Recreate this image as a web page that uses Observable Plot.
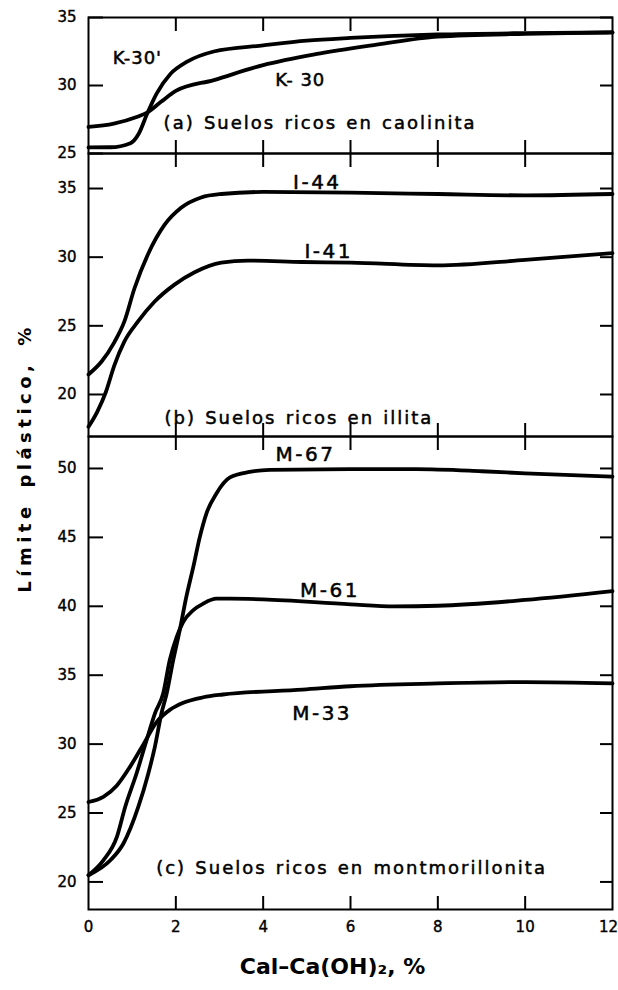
<!DOCTYPE html>
<html>
<head>
<meta charset="utf-8">
<script src="https://cdn.jsdelivr.net/npm/d3@7"></script>
<script src="https://cdn.jsdelivr.net/npm/@observablehq/plot@0.6"></script>
<style>
  body { margin: 0; background: #fff; }
  #wrap { position: relative; width: 618px; height: 990px; overflow: hidden; }
  #wrap svg { display: block; overflow: visible; }
  #ytitle {
    position: absolute; left: 24px; top: 458px;
    transform: translate(-50%, -50%) rotate(-90deg);
    font: bold 18px "DejaVu Sans", sans-serif; letter-spacing: 4.5px; word-spacing: 4px;
    white-space: nowrap; color: #000;
  }
</style>
</head>
<body>
<div id="wrap"><div id="ytitle">Límite plástico, %</div></div>
<script>
// ---------- data ----------
const xTicks = [0, 2, 4, 6, 8, 10];
const xLastTick = [12];
const xInnerTicks = [2, 4, 6, 8, 10];

// (a) caolinita
const aTicks = [25, 30, 35];
const xK30p = [0, 0.5, 0.96, 1.15, 1.34, 1.56, 1.88, 2.26, 2.87, 4, 5, 6, 7, 8, 10, 12];
const yK30p = [25.45, 25.46, 25.76, 26.45, 27.9, 29.4, 30.86, 31.75, 32.5, 32.95, 33.3, 33.5, 33.65, 33.75, 33.85, 33.9];
const xK30 = [0, 0.58, 1.12, 1.34, 1.66, 2, 2.87, 4, 5.2, 6.6, 8, 10, 12];
const yK30 = [26.95, 27.2, 27.7, 28.0, 28.8, 29.6, 30.4, 31.5, 32.3, 33.0, 33.6, 33.8, 33.9];

// (b) illita
const bTicks = [20, 25, 30, 35];
const xI44 = [0, 0.3, 0.59, 0.82, 1.05, 1.36, 1.74, 2.12, 2.58, 3.04, 4, 6, 8, 10, 12];
const yI44 = [21.46, 22.4, 23.8, 25.3, 27.7, 30.2, 32.35, 33.6, 34.35, 34.6, 34.75, 34.7, 34.6, 34.5, 34.6];
const xI41 = [0, 0.2, 0.4, 0.59, 0.82, 1.13, 1.51, 1.97, 2.43, 3.04, 3.65, 4.9, 6, 8, 10, 12];
const yI41 = [17.65, 18.74, 20.2, 22.1, 23.85, 25.3, 26.75, 28.0, 28.9, 29.6, 29.75, 29.65, 29.6, 29.4, 29.8, 30.3];

// (c) montmorillonita
const cTicks = [20, 25, 30, 35, 40, 45, 50];
const xM33 = [0, 0.34, 0.65, 0.95, 1.26, 1.56, 1.87, 2.17, 2.63, 3.08, 4.9, 6, 8, 10, 12];
const yM33 = [25.8, 26.17, 27.0, 28.35, 30.0, 31.6, 32.5, 33.0, 33.4, 33.6, 33.95, 34.2, 34.4, 34.5, 34.4];
const xM61 = [0, 0.34, 0.65, 0.84, 1.10, 1.33, 1.52, 1.71, 1.86, 2.02, 2.17, 2.40, 2.63, 2.93, 3.24, 4, 6, 7, 8, 10, 12];
const yM61 = [20.49, 21.57, 23.27, 25.44, 27.87, 30.28, 32.22, 33.67, 36.09, 37.78, 38.87, 39.72, 40.2, 40.55, 40.55, 40.5, 40.14, 40.0, 40.04, 40.46, 41.1];
const xM67 = [0, 0.5, 0.8, 1.14, 1.37, 1.52, 1.67, 1.79, 1.94, 2.09, 2.24, 2.40, 2.55, 2.70, 2.93, 3.24, 3.69, 4.15, 6, 7.5, 9, 10, 12];
const yM67 = [20.49, 21.57, 22.79, 25.44, 27.87, 29.8, 32.22, 33.67, 36.09, 38.27, 40.68, 42.86, 45.04, 46.73, 48.19, 49.35, 49.75, 49.9, 49.95, 49.95, 49.8, 49.65, 49.4];

// labels
const kLabels = [{t: "K-30'", x: 1.12, y: 32.0}, {t: "K- 30", x: 4.85, y: 30.4}];
const capA = [{t: "(a) Suelos ricos en caolinita", x: 1.72, y: 27.25}];
const iLabels = [{t: "I-44", x: 5.24, y: 35.45}, {t: "I-41", x: 5.5, y: 30.4}];
const capB = [{t: "(b) Suelos ricos en illita", x: 1.74, y: 18.3}];
const mLabels = [{t: "M-67", x: 4.97, y: 51.0}, {t: "M-61", x: 5.53, y: 41.15}, {t: "M-33", x: 5.35, y: 32.25}];
const capC = [{t: "(c) Suelos ricos en montmorillonita", x: 1.55, y: 21.0}];
const xTitle = ["Cal–Ca(OH)₂, %"];

// ---------- drawing ----------
const FONT = "DejaVu Sans, sans-serif";
const zip = (xs, ys) => xs.map((x, i) => ({x, y: ys[i]}));
const textStroke = {stroke: "black", strokeWidth: 0.5, fill: "black"};

function panel({height, marginTop, marginBottom, yDomain, yTicks, series, labels, labelSize, caption, bottomLabels}) {
  const marks = [
    Plot.frame({stroke: "black", strokeWidth: 2}),
    Plot.axisY(yTicks, {anchor: "left", tickSize: -15, tickFormat: () => "", strokeWidth: 2, label: null}),
    Plot.axisY(yTicks, {anchor: "right", tickSize: -13, tickFormat: () => "", strokeWidth: 2, label: null}),
    Plot.axisX(xInnerTicks, {anchor: "top", tickSize: -13, tickFormat: () => "", strokeWidth: 2, label: null}),
    Plot.axisX(xInnerTicks, {anchor: "bottom", tickSize: -13, tickFormat: () => "", strokeWidth: 2, label: null}),
    Plot.axisY(yTicks, {anchor: "left", tickSize: 0, tickPadding: 12, fontSize: 15, label: null}),
    ...series.map(s => Plot.line(s, {x: "x", y: "y", stroke: "black", strokeWidth: 3.8, curve: "monotone-x"})),
    Plot.text(labels, {x: "x", y: "y", text: "t", fontSize: labelSize, textAnchor: "middle", ...textStroke}),
    Plot.text(caption, {x: "x", y: "y", text: "t", fontSize: 18, textAnchor: "start", ...textStroke})
  ];
  if (bottomLabels) {
    marks.push(Plot.axisX(xTicks, {anchor: "bottom", tickSize: 0, tickPadding: 12, fontSize: 15, label: null}));
    marks.push(Plot.axisX(xLastTick, {anchor: "bottom", tickSize: 0, tickPadding: 12, fontSize: 15, dx: -4, label: null}));
    marks.push(Plot.text(xTitle, {frameAnchor: "bottom", dy: 64, dx: -18, text: d => d, fontSize: 22, fontWeight: "bold"}));
  }
  const svg = Plot.plot({
    width: 618, height, marginLeft: 88, marginRight: 6, marginTop, marginBottom,
    x: {domain: [0, 12]},
    y: {domain: yDomain},
    style: {overflow: "visible", fontFamily: FONT, color: "black", background: "transparent"},
    marks
  });
  // lettering spacing like the hand-lettered original
  const capTexts = caption.map(d => d.t);
  const labTexts = labels.map(d => d.t);
  d3.select(svg).selectAll("text").each(function () {
    const s = this.textContent;
    if (capTexts.includes(s)) d3.select(this).style("letter-spacing", "2px").style("word-spacing", "1.5px");
    else if (labTexts.includes(s)) d3.select(this).style("letter-spacing", labelSize > 18 ? "2.5px" : "1px");
  });
  d3.select(svg).selectAll('g[aria-label="y-axis tick label"] text, g[aria-label="x-axis tick label"] text')
    .style("stroke", "black").style("stroke-width", "0.4px");
  return svg;
}

const wrap = document.getElementById("wrap");
wrap.appendChild(panel({
  height: 153, marginTop: 17, marginBottom: 0, yDomain: [25, 35], yTicks: aTicks,
  series: [zip(xK30p, yK30p), zip(xK30, yK30)],
  labels: kLabels, labelSize: 18, caption: capA
}));
wrap.appendChild(panel({
  height: 283, marginTop: 0, marginBottom: 0, yDomain: [16.94, 37.55], yTicks: bTicks,
  series: [zip(xI44, yI44), zip(xI41, yI41)],
  labels: iLabels, labelSize: 20, caption: capB
}));
wrap.appendChild(panel({
  height: 554, marginTop: 0, marginBottom: 81, yDomain: [18.0, 52.32], yTicks: cTicks,
  series: [zip(xM33, yM33), zip(xM61, yM61), zip(xM67, yM67)],
  labels: mLabels, labelSize: 20, caption: capC, bottomLabels: true
}));
</script>
</body>
</html>
